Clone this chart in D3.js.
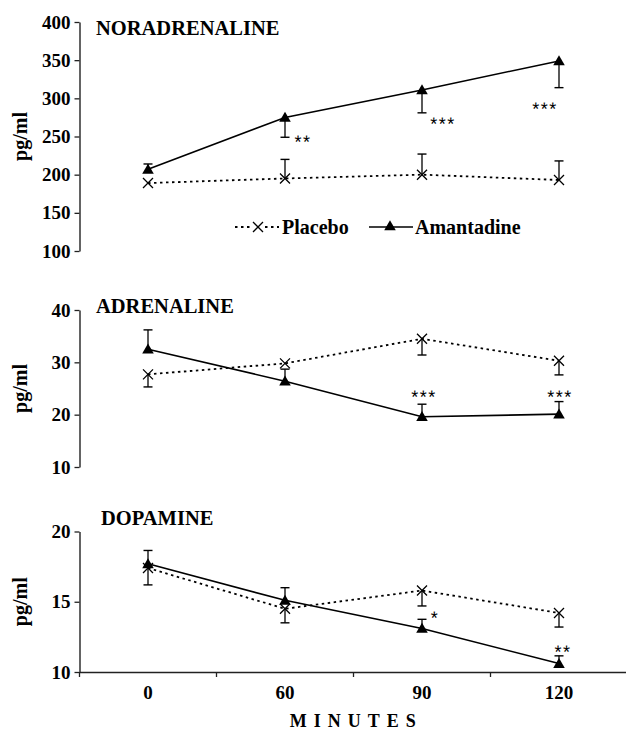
<!DOCTYPE html>
<html>
<head>
<meta charset="utf-8">
<script src="https://cdn.jsdelivr.net/npm/d3@7"></script>
<style>
  body { margin: 0; background: #fff; }
  svg { display: block; font-family: "Liberation Serif", "Times New Roman", serif; }
</style>
</head>
<body>
<div id="plot"></div>
<script>
// values (pg/ml), signed error = direction of the drawn bar
const minutes = ["0", "60", "90", "120"];

const noraTicks = [100, 150, 200, 250, 300, 350, 400];
const noraPlacebo = [189, 195, 200, 193];
const noraPlaceboErr = [0, 25, 27, 25];
const noraAmantadine = [207, 275, 311, 349];
const noraAmantadineErr = [7, -26, -30, -35];
const noraStars = ["", "**", "***", "***"];

const adreTicks = [10, 20, 30, 40];
const adrePlacebo = [27.7, 29.8, 34.5, 30.3];
const adrePlaceboErr = [-2.4, 0, -3.1, -2.7];
const adreAmantadine = [32.5, 26.4, 19.6, 20.1];
const adreAmantadineErr = [3.7, 2.3, 2.4, 2.4];
const adreStars = ["", "", "***", "***"];

const dopaTicks = [10, 15, 20];
const dopaPlacebo = [17.4, 14.5, 15.8, 14.2];
const dopaPlaceboErr = [-1.2, -1.0, -1.1, -1.0];
const dopaAmantadine = [17.7, 15.1, 13.1, 10.6];
const dopaAmantadineErr = [0.95, 0.9, 0.65, 0.55];
const dopaStars = ["", "", "*", "**"];

const W = 626, H = 733;

const svg = d3.select("#plot").append("svg")
  .attr("width", W)
  .attr("height", H);

const x = d3.scaleBand()
  .domain(minutes)
  .range([79.5, 627.5]);

const cx = d => x(d) + x.bandwidth() / 2;

const triangle = d3.symbol().type(d3.symbolTriangle).size(58);

function drawCross(g, px, py) {
  const r = 5;
  g.append("path")
    .attr("d", `M${px - r},${py - r}L${px + r},${py + r}M${px - r},${py + r}L${px + r},${py - r}`)
    .attr("stroke", "#000")
    .attr("stroke-width", 1.3)
    .attr("fill", "none");
}

function drawPanel(p) {
  const g = svg.append("g");

  const y = d3.scaleLinear()
    .domain(d3.extent(p.ticks))
    .range(p.range);

  // left axis
  const ax = g.append("g")
    .attr("transform", "translate(79.5,0)")
    .call(d3.axisLeft(y).tickValues(p.ticks).tickSize(5).tickSizeOuter(0).tickPadding(4));
  ax.select(".domain").attr("stroke", "#222").attr("stroke-width", 1.4);
  ax.selectAll(".tick line").attr("stroke", "#222").attr("stroke-width", 1.3);
  ax.selectAll(".tick text")
    .attr("fill", "#000")
    .style("font-size", "19px")
    .style("font-weight", "bold")
    .style("font-family", "'Liberation Serif', 'Times New Roman', serif");

  // y label
  const mid = (p.range[0] + p.range[1]) / 2;
  g.append("text")
    .attr("transform", `translate(27,${mid}) rotate(-90)`)
    .attr("text-anchor", "middle")
    .style("font-size", "20px")
    .style("font-weight", "bold")
    .text("pg/ml");

  // title
  g.append("text")
    .attr("x", p.titleX)
    .attr("y", p.titleY)
    .style("font-size", "20.5px")
    .style("font-weight", "bold")
    .text(p.title);

  const line = d3.line()
    .x((d, i) => cx(minutes[i]))
    .y(d => y(d));

  // error bars
  function errBars(vals, errs) {
    vals.forEach((v, i) => {
      if (!errs[i]) return;
      const px = cx(minutes[i]);
      const y0 = y(v), y1 = y(v + errs[i]);
      g.append("line")
        .attr("x1", px).attr("x2", px)
        .attr("y1", y0).attr("y2", y1)
        .attr("stroke", "#000").attr("stroke-width", 1.3);
      g.append("line")
        .attr("x1", px - 4.5).attr("x2", px + 4.5)
        .attr("y1", y1).attr("y2", y1)
        .attr("stroke", "#000").attr("stroke-width", 1.4);
    });
  }
  errBars(p.placebo, p.placeboErr);
  errBars(p.amantadine, p.amantadineErr);

  g.append("path")
    .datum(p.placebo)
    .attr("d", line)
    .attr("fill", "none")
    .attr("stroke", "#000")
    .attr("stroke-width", 1.8)
    .attr("stroke-dasharray", "2.5,3.5");

  g.append("path")
    .datum(p.amantadine)
    .attr("d", line)
    .attr("fill", "none")
    .attr("stroke", "#000")
    .attr("stroke-width", 1.6);

  p.placebo.forEach((v, i) => drawCross(g, cx(minutes[i]), y(v)));

  g.selectAll(".tri")
    .data(p.amantadine)
    .enter().append("path")
    .attr("class", "tri")
    .attr("d", triangle)
    .attr("transform", (d, i) => `translate(${cx(minutes[i])},${y(d) + 1})`)
    .attr("fill", "#000");

  // significance stars
  p.stars.forEach((s, i) => {
    if (!s) return;
    const off = p.starOffsets[i];
    const ey = y(p.amantadine[i] + p.amantadineErr[i]);
    g.append("text")
      .attr("x", cx(minutes[i]) + off[0] + 1)
      .attr("y", ey + off[1] + 11)
      .attr("text-anchor", "middle")
      .attr("fill", "#000")
      .style("font-family", "'Liberation Sans', Arial, sans-serif")
      .style("font-size", "18px")
      .style("letter-spacing", "1.5px")
      .style("text-rendering", "geometricPrecision")
      .text(s);
  });

  return y;
}

drawPanel({
  title: "NORADRENALINE", titleX: 96, titleY: 35,
  ticks: noraTicks, range: [251, 22],
  placebo: noraPlacebo, placeboErr: noraPlaceboErr,
  amantadine: noraAmantadine, amantadineErr: noraAmantadineErr,
  stars: noraStars, starOffsets: [[0, 0], [17, 0], [20, 6], [-15, 16]]
});

drawPanel({
  title: "ADRENALINE", titleX: 96, titleY: 313,
  ticks: adreTicks, range: [467, 310],
  placebo: adrePlacebo, placeboErr: adrePlaceboErr,
  amantadine: adreAmantadine, amantadineErr: adreAmantadineErr,
  stars: adreStars, starOffsets: [[0, 0], [0, 0], [1, -12], [0, -10]]
});

drawPanel({
  title: "DOPAMINE", titleX: 101, titleY: 525,
  ticks: dopaTicks, range: [672, 531.5],
  placebo: dopaPlacebo, placeboErr: dopaPlaceboErr,
  amantadine: dopaAmantadine, amantadineErr: dopaAmantadineErr,
  stars: dopaStars, starOffsets: [[0, 0], [0, 0], [12, -6], [3, -9]]
});

// bottom axis
const xAxis = svg.append("g")
  .attr("transform", "translate(0,672)")
  .call(d3.axisBottom(x).tickSize(0).tickSizeOuter(0).tickPadding(14));
xAxis.select(".domain").attr("stroke", "#222").attr("stroke-width", 1.4);
xAxis.selectAll(".tick text")
  .attr("fill", "#000")
  .style("font-size", "19px")
  .style("font-weight", "bold")
  .style("font-family", "'Liberation Serif', 'Times New Roman', serif");

xAxis.selectAll(".bound")
  .data(minutes)
  .enter().append("line")
  .attr("class", "bound")
  .attr("x1", d => x(d)).attr("x2", d => x(d))
  .attr("y1", 0).attr("y2", 5)
  .attr("stroke", "#222").attr("stroke-width", 1.3);

svg.append("text")
  .attr("x", (x.range()[0] + 626) / 2 + 3.5)
  .attr("y", 727)
  .attr("text-anchor", "middle")
  .style("font-size", "18px")
  .style("font-weight", "bold")
  .style("letter-spacing", "7px")
  .text("MINUTES");

// legend
const lg = svg.append("g");
lg.append("line")
  .attr("x1", 235).attr("x2", 279).attr("y1", 227).attr("y2", 227)
  .attr("stroke", "#000").attr("stroke-width", 1.8)
  .attr("stroke-dasharray", "2.5,3.5");
lg.append("rect")
  .attr("x", 251).attr("y", 220).attr("width", 14).attr("height", 14)
  .attr("fill", "#fff");
drawCross(lg, 258, 227);
lg.append("text")
  .attr("x", 282).attr("y", 234)
  .style("font-size", "20px").style("font-weight", "bold")
  .text("Placebo");
lg.append("line")
  .attr("x1", 369).attr("x2", 413).attr("y1", 227).attr("y2", 227)
  .attr("stroke", "#000").attr("stroke-width", 1.6);
lg.append("path")
  .attr("d", triangle)
  .attr("transform", "translate(390,227)")
  .attr("fill", "#000");
lg.append("text")
  .attr("x", 415).attr("y", 234)
  .style("font-size", "20px").style("font-weight", "bold")
  .text("Amantadine");
</script>
</body>
</html>
